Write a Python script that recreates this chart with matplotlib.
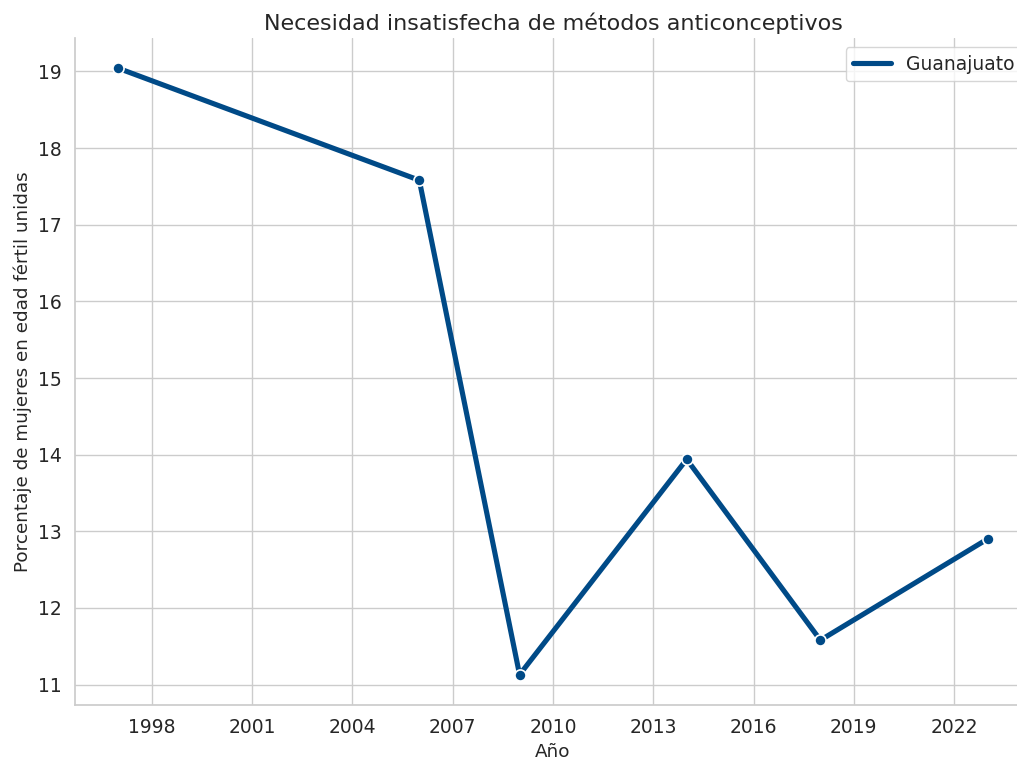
import matplotlib
matplotlib.use('Agg')
import matplotlib.pyplot as plt
import seaborn as sns

# Data
years = [1997, 2006, 2009, 2014, 2018, 2023]
values = [19.04, 17.58, 11.13, 13.94, 11.58, 12.90]
series_name = 'Guanajuato'

sns.set_theme(style='whitegrid')
plt.rcParams['font.family'] = ['DejaVu Sans']

fig = plt.figure(figsize=(10.17, 7.62), dpi=100)
ax = fig.add_axes([75 / 1017, 57 / 762, 956 / 1017, 667 / 762])

ax.plot(years, values, color='#004a87', linewidth=3.7, marker='o',
        markersize=8, markeredgecolor='white', markeredgewidth=1.2,
        label=series_name)

ax.set_xticks([1998, 2001, 2004, 2007, 2010, 2013, 2016, 2019, 2022])
ax.set_xlim(1995.7, 2024.3)
ax.tick_params(labelsize=13.5)

ax.set_title('Necesidad insatisfecha de métodos anticonceptivos', fontsize=16)
ax.set_xlabel('Año', fontsize=13.2)
ax.set_ylabel('Porcentaje de mujeres en edad fértil unidas', fontsize=13.2)

leg = ax.legend(loc='upper right', fontsize=13.5)
for h in leg.legend_handles:
    h.set_marker('')

sns.despine(ax=ax, top=True, right=True)

fig.savefig('out.png', dpi=100)
